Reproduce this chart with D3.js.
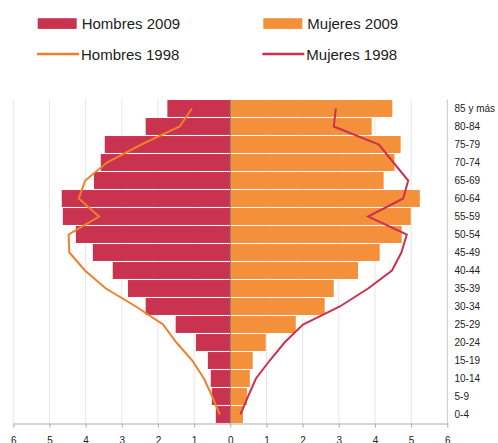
<!DOCTYPE html>
<html>
<head>
<meta charset="utf-8">
<script src="https://cdn.jsdelivr.net/npm/d3@7"></script>
<style>
  body { margin: 0; background: #fff; }
  svg { display: block; font-family: "Liberation Sans", Arial, sans-serif; }
</style>
</head>
<body>
<svg></svg>
<script>
let ages = ['85 y más', '80-84', '75-79', '70-74', '65-69', '60-64', '55-59', '50-54', '45-49',
  '40-44', '35-39', '30-34', '25-29', '20-24', '15-19', '10-14', '5-9', '0-4']

let hombres2009 = [1.74, 2.34, 3.47, 3.58, 3.77, 4.66, 4.63, 4.27, 3.80,
  3.25, 2.83, 2.34, 1.51, 0.95, 0.62, 0.54, 0.51, 0.40]
let mujeres2009 = [4.48, 3.91, 4.71, 4.54, 4.24, 5.24, 4.99, 4.74, 4.13,
  3.53, 2.86, 2.61, 1.81, 0.98, 0.62, 0.54, 0.46, 0.35]
let hombres1998 = [1.06, 1.40, 2.46, 3.41, 4.01, 4.19, 3.63, 4.47, 4.45,
  4.02, 3.44, 2.61, 1.86, 1.49, 1.05, 0.73, 0.50, 0.29]
let mujeres1998 = [2.92, 2.86, 4.11, 4.51, 4.92, 4.78, 3.81, 4.88, 4.73,
  4.47, 3.81, 3.03, 2.01, 1.50, 1.09, 0.71, 0.49, 0.28]

let ticks = [-6, -5, -4, -3, -2, -1, 0, 1, 2, 3, 4, 5, 6]

let width = 498
let height = 443

let red = '#c9334f'
let orange = '#f48f3a'
let orangeLine = '#f07f2c'

let svg = d3.select('svg')
  .attr('width', width)
  .attr('height', height)

let xScale = d3.scaleLinear()
  .domain([-6, 6])
  .range([13.3, 447.3])

let yScale = d3.scaleBand()
  .domain(ages)
  .range([99.5, 423.5])
  .paddingInner(0.06)
  .paddingOuter(0.03)

let centerY = (d) => yScale(d) + yScale.bandwidth() / 2

// gridlines
svg.append('g')
  .selectAll('line')
  .data(ticks)
  .enter()
  .append('line')
  .attr('x1', (d) => xScale(d))
  .attr('x2', (d) => xScale(d))
  .attr('y1', 99.5)
  .attr('y2', 423.5)
  .attr('stroke', (d) => d === 6 ? '#c8c8c8' : '#e6e6e6')
  .attr('stroke-width', 1)

// bars
svg.append('g')
  .selectAll('rect')
  .data(ages)
  .enter()
  .append('rect')
  .attr('x', (d, i) => xScale(-hombres2009[i]))
  .attr('y', (d) => yScale(d))
  .attr('width', (d, i) => xScale(0) - xScale(-hombres2009[i]))
  .attr('height', yScale.bandwidth())
  .attr('fill', red)

svg.append('g')
  .selectAll('rect')
  .data(ages)
  .enter()
  .append('rect')
  .attr('x', xScale(0))
  .attr('y', (d) => yScale(d))
  .attr('width', (d, i) => xScale(mujeres2009[i]) - xScale(0))
  .attr('height', yScale.bandwidth())
  .attr('fill', orange)

// zero line
svg.append('line')
  .attr('x1', xScale(0))
  .attr('x2', xScale(0))
  .attr('y1', 99.5)
  .attr('y2', 423.5)
  .attr('stroke', '#8a7a70')
  .attr('stroke-width', 1)

// 1998 lines
let lineH = d3.line()
  .x((d, i) => xScale(-d))
  .y((d, i) => centerY(ages[i]))

let lineM = d3.line()
  .x((d, i) => xScale(d))
  .y((d, i) => centerY(ages[i]))

svg.append('path')
  .datum(hombres1998)
  .attr('d', lineH)
  .attr('fill', 'none')
  .attr('stroke', orangeLine)
  .attr('stroke-width', 2)

svg.append('path')
  .datum(mujeres1998)
  .attr('d', lineM)
  .attr('fill', 'none')
  .attr('stroke', red)
  .attr('stroke-width', 2)

// bottom axis
let xAxis = d3.axisBottom(xScale)
  .tickValues(ticks)
  .tickFormat((d) => Math.abs(d))
  .tickSize(4)
  .tickSizeOuter(0)

let gx = svg.append('g')
  .attr('transform', 'translate(0, 423.5)')
  .call(xAxis)
gx.select('.domain').attr('stroke', '#aaaaaa')
gx.selectAll('.tick line').attr('stroke', '#aaaaaa')
gx.selectAll('.tick text')
  .attr('y', 13)
  .attr('fill', '#222')
  .style('font-size', '10px')
  .style('font-family', '"Liberation Sans", Arial, sans-serif')

// right labels
svg.append('g')
  .selectAll('text')
  .data(ages)
  .enter()
  .append('text')
  .attr('x', 454.5)
  .attr('y', (d) => centerY(d) + 3.5)
  .attr('fill', '#222')
  .style('font-size', '10px')
  .text((d) => d)

// legend
let legend = svg.append('g')
let legendItems = [
  { name: 'Hombres 2009', type: 'rect', color: red, x: 37.7, y: 23.5 },
  { name: 'Mujeres 2009', type: 'rect', color: orange, x: 263.3, y: 23.5 },
  { name: 'Hombres 1998', type: 'line', color: orangeLine, x: 37, y: 54 },
  { name: 'Mujeres 1998', type: 'line', color: red, x: 262.3, y: 54 }
]

legendItems.forEach((item) => {
  if (item.type === 'rect') {
    legend.append('rect')
      .attr('x', item.x)
      .attr('y', item.y - 5.3)
      .attr('width', 39)
      .attr('height', 10.7)
      .attr('fill', item.color)
  } else {
    legend.append('line')
      .attr('x1', item.x)
      .attr('x2', item.x + 42)
      .attr('y1', item.y)
      .attr('y2', item.y)
      .attr('stroke', item.color)
      .attr('stroke-width', 2.5)
  }
  legend.append('text')
    .attr('x', item.x + 44)
    .attr('y', item.y + 5.5)
    .attr('fill', '#222')
    .style('font-size', '15px')
    .text(item.name)
})
</script>
</body>
</html>
